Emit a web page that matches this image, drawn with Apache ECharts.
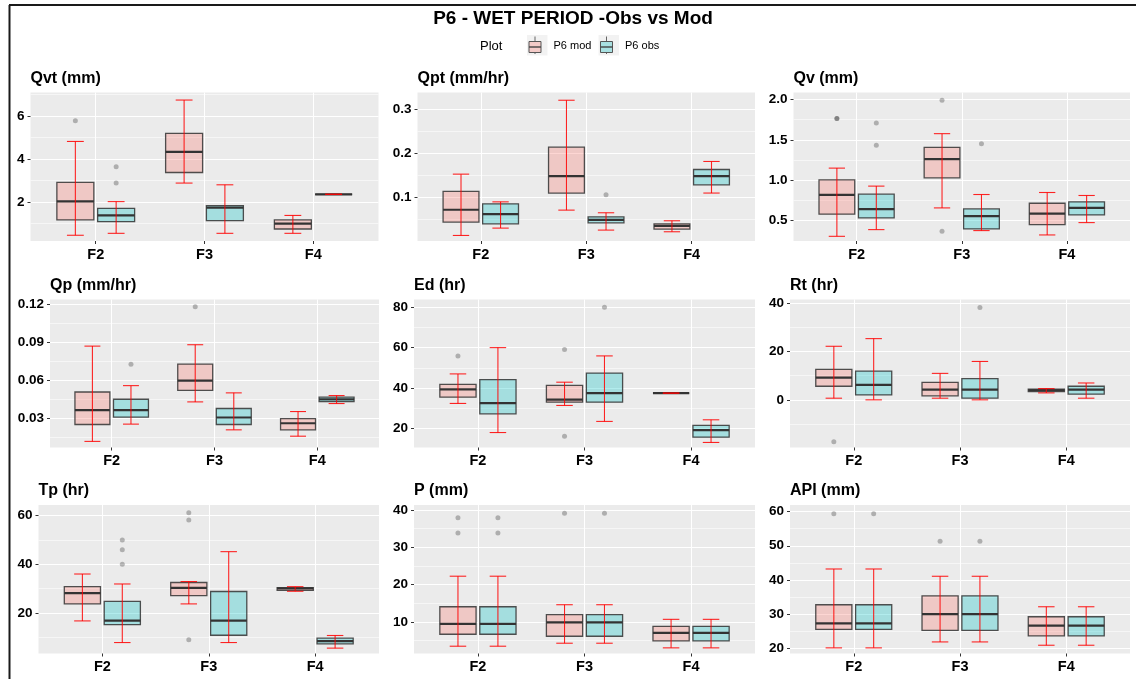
<!DOCTYPE html>
<html>
<head>
<meta charset="utf-8">
<title>P6 - WET PERIOD -Obs vs Mod</title>
<script src="https://cdn.jsdelivr.net/npm/echarts@6/dist/echarts.min.js"></script>
<style>
  html, body { margin: 0; padding: 0; background: #ffffff; }
  #chart { width: 1136px; height: 679px; }
</style>
</head>
<body>
<div id="chart"></div>
<script>
// ---- data -------------------------------------------------------------
const categories = ['F2', 'F3', 'F4'];
const seriesNames = ['P6 mod', 'P6 obs'];

// five-number summaries per site: [lower whisker, Q1, median, Q3, upper whisker]
// outliers: [site index (1 = F2, 2 = F3, 3 = F4), value]
const qvtMod = [[0.46, 1.17, 2.03, 2.91, 4.81], [2.88, 3.37, 4.33, 5.18, 6.73], [0.55, 0.75, 1.0, 1.17, 1.38]];
const qvtObs = [[0.55, 1.09, 1.38, 1.71, 2.02], [0.55, 1.14, 1.74, 1.83, 2.80], [2.36, 2.36, 2.36, 2.36, 2.36]];
const qvtModOut = [[1, 5.77]];
const qvtObsOut = [[1, 3.64], [1, 2.88]];

const qptMod = [[0.0136, 0.044, 0.072, 0.1136, 0.153], [0.0712, 0.110, 0.1485, 0.2144, 0.321], [0.022, 0.028, 0.0356, 0.040, 0.047]];
const qptObs = [[0.0303, 0.040, 0.062, 0.0856, 0.090], [0.0258, 0.0424, 0.0492, 0.056, 0.0652], [0.110, 0.1288, 0.1485, 0.1636, 0.1818]];
const qptModOut = [];
const qptObsOut = [[2, 0.106]];

const qvMod = [[0.305, 0.579, 0.819, 1.005, 1.150], [0.657, 1.030, 1.262, 1.407, 1.577], [0.322, 0.450, 0.587, 0.715, 0.848]];
const qvObs = [[0.388, 0.533, 0.641, 0.827, 0.927], [0.376, 0.396, 0.554, 0.645, 0.823], [0.475, 0.570, 0.657, 0.732, 0.811]];
const qvModOut = [[1, 1.764], [1, 1.764], [2, 1.99], [2, 0.367]];
const qvObsOut = [[1, 1.71], [1, 1.432], [2, 1.453]];

const qpMod = [[0.0120, 0.0253, 0.0366, 0.0509, 0.0870], [0.0431, 0.0522, 0.0598, 0.0729, 0.0881], [0.0161, 0.0211, 0.0263, 0.0300, 0.0355]];
const qpObs = [[0.0256, 0.0311, 0.0366, 0.0452, 0.0559], [0.0211, 0.0253, 0.0308, 0.0379, 0.0502], [0.0418, 0.0434, 0.0452, 0.0468, 0.0481]];
const qpModOut = [[2, 0.1179]];
const qpObsOut = [[1, 0.0727]];

const edMod = [[32.4, 35.5, 39.3, 41.8, 47.0], [31.4, 33.0, 34.3, 41.3, 42.9], [37.5, 37.5, 37.5, 37.5, 37.5]];
const edObs = [[18.0, 27.25, 32.5, 44.2, 60.0], [23.5, 33.0, 37.5, 47.4, 55.9], [13.1, 15.7, 19.2, 21.5, 24.3]];
const edModOut = [[1, 55.9], [2, 59.1], [2, 16.2]];
const edObsOut = [[2, 80.0]];

const rtMod = [[0.68, 5.60, 9.15, 12.56, 22.1], [0.68, 1.64, 4.23, 7.24, 10.92], [2.87, 3.41, 3.96, 4.37, 4.64]];
const rtObs = [[0, 2.05, 6.14, 11.88, 25.26], [0, 0.68, 4.23, 8.74, 15.84], [0.68, 2.32, 4.23, 5.6, 6.96]];
const rtModOut = [[1, -17.3]];
const rtObsOut = [[2, 38.1]];

const tpMod = [[16.7, 23.7, 28.1, 30.8, 36.0], [23.7, 27.1, 30.3, 32.5, 32.9], [28.9, 29.3, 30.1, 30.4, 30.8]];
const tpObs = [[7.8, 15.2, 16.85, 24.7, 31.9], [7.8, 10.8, 16.85, 28.8, 45.2], [5.5, 7.26, 8.35, 9.6, 10.7]];
const tpModOut = [[2, 61.2], [2, 58.2], [2, 8.9]];
const tpObsOut = [[1, 50.0], [1, 46.0], [1, 40.0]];

const pMod = [[3.52, 6.72, 9.47, 14.08, 22.25], [4.32, 6.18, 9.91, 11.95, 14.62], [3.08, 4.94, 7.07, 8.85, 10.71]];
const pObs = [[3.52, 6.72, 9.47, 14.08, 22.25], [4.32, 6.18, 9.91, 11.95, 14.62], [3.08, 4.94, 7.07, 8.85, 10.71]];
const pModOut = [[1, 37.87], [1, 33.79], [2, 39.1]];
const pObsOut = [[1, 37.87], [1, 33.79], [2, 39.1]];

const apiMod = [[20.1, 25.53, 27.28, 32.72, 43.2], [21.84, 25.24, 30.0, 35.34, 41.07], [20.87, 23.59, 26.6, 29.22, 32.14]];
const apiObs = [[20.1, 25.53, 27.28, 32.72, 43.2], [21.84, 25.24, 30.0, 35.34, 41.07], [20.87, 23.59, 26.6, 29.22, 32.14]];
const apiModOut = [[1, 59.4], [2, 51.36]];
const apiObsOut = [[1, 59.4], [2, 51.36]];

// y axis breaks: major (labelled) and minor (grid only)
const qvtTicks = [2, 4, 6];            const qvtMinor = [1, 3, 5, 7];
const qptTicks = [0.1, 0.2, 0.3];      const qptMinor = [0.05, 0.15, 0.25];
const qvTicks = [0.5, 1.0, 1.5, 2.0];  const qvMinor = [0.25, 0.75, 1.25, 1.75];
const qpTicks = [0.03, 0.06, 0.09, 0.12]; const qpMinor = [0.015, 0.045, 0.075, 0.105];
const edTicks = [20, 40, 60, 80];      const edMinor = [30, 50, 70];
const rtTicks = [0, 20, 40];           const rtMinor = [-10, 10, 30];
const tpTicks = [20, 40, 60];          const tpMinor = [10, 30, 50];
const pTicks = [10, 20, 30, 40];       const pMinor = [5, 15, 25, 35];
const apiTicks = [20, 30, 40, 50, 60]; const apiMinor = [25, 35, 45, 55];

// ---- panel setup ------------------------------------------------------
const panels = [
  { title: 'Qvt (mm)',    mod: qvtMod, obs: qvtObs, modOut: qvtModOut, obsOut: qvtObsOut, ticks: qvtTicks, minor: qvtMinor, yMin: 0.194,  yMax: 7.08,   digits: 0 },
  { title: 'Qpt (mm/hr)', mod: qptMod, obs: qptObs, modOut: qptModOut, obsOut: qptObsOut, ticks: qptTicks, minor: qptMinor, yMin: 0.001,  yMax: 0.3386, digits: 1 },
  { title: 'Qv (mm)',     mod: qvMod,  obs: qvObs,  modOut: qvModOut,  obsOut: qvObsOut,  ticks: qvTicks,  minor: qvMinor,  yMin: 0.247,  yMax: 2.087,  digits: 1 },
  { title: 'Qp (mm/hr)',  mod: qpMod,  obs: qpObs,  modOut: qpModOut,  obsOut: qpObsOut,  ticks: qpTicks,  minor: qpMinor,  yMin: 0.0072, yMax: 0.1237, digits: 2 },
  { title: 'Ed (hr)',     mod: edMod,  obs: edObs,  modOut: edModOut,  obsOut: edObsOut,  ticks: edTicks,  minor: edMinor,  yMin: 10.6,   yMax: 83.8,   digits: 0 },
  { title: 'Rt (hr)',     mod: rtMod,  obs: rtObs,  modOut: rtModOut,  obsOut: rtObsOut,  ticks: rtTicks,  minor: rtMinor,  yMin: -19.66, yMax: 41.4,   digits: 0 },
  { title: 'Tp (hr)',     mod: tpMod,  obs: tpObs,  modOut: tpModOut,  obsOut: tpObsOut,  ticks: tpTicks,  minor: tpMinor,  yMin: 3.29,   yMax: 64.4,   digits: 0 },
  { title: 'P (mm)',      mod: pMod,   obs: pObs,   modOut: pModOut,   obsOut: pObsOut,   ticks: pTicks,   minor: pMinor,   yMin: 1.57,   yMax: 41.3,   digits: 0 },
  { title: 'API (mm)',    mod: apiMod, obs: apiObs, modOut: apiModOut, obsOut: apiObsOut, ticks: apiTicks, minor: apiMinor, yMin: 18.45,  yMax: 61.94,  digits: 0 }
];

// panel rectangles: [left, right, top, bottom] in px
const panelBoxes = [
  [30.5, 378.5, 92.5, 241], [417.5, 755, 92.5, 241], [793.5, 1130, 92.5, 241],
  [50, 379, 299.5, 447.5],  [414, 755, 299.5, 447.5], [790, 1130, 299.5, 447.5],
  [38.5, 379, 505, 653.5],  [414, 755, 505, 653.5],  [790, 1130, 505, 653.5]
];

const FONT = '"Liberation Sans", Arial, Helvetica, sans-serif';
const DODGE = 0.1875;      // half the dodge width
const BOX_W = 0.34;        // box width, category units
const CAP_W = 0.155;       // whisker cap width
const WHISKER = 'rgba(255,0,0,0.85)';
const FILLS = ['rgba(248,118,109,0.3)', 'rgba(0,191,196,0.3)'];
const KEY_FILLS = ['#F3CBC8', '#A8E0E1'];

function boxRenderer(offset, fill) {
  return function (params, api) {
    const c = api.value(0) + offset;
    const lo = api.coord([c, api.value(1)]);
    const q1 = api.coord([c, api.value(2)]);
    const md = api.coord([c, api.value(3)]);
    const q3 = api.coord([c, api.value(4)]);
    const hi = api.coord([c, api.value(5)]);
    const half = api.size([BOX_W / 2, 0])[0];
    const cap = api.size([CAP_W / 2, 0])[0];
    const x = md[0];
    return {
      type: 'group',
      children: [
        { type: 'rect', shape: { x: x - half, y: q3[1], width: 2 * half, height: q1[1] - q3[1] },
          style: { fill: fill, stroke: 'rgba(51,51,51,0.85)', lineWidth: 1.3 } },
        { type: 'line', shape: { x1: x - half, y1: md[1], x2: x + half, y2: md[1] },
          style: { stroke: '#333333', lineWidth: 2.2 } },
        { type: 'line', shape: { x1: x, y1: hi[1], x2: x, y2: lo[1] },
          style: { stroke: WHISKER, lineWidth: 1.1 } },
        { type: 'line', shape: { x1: x - cap, y1: hi[1], x2: x + cap, y2: hi[1] },
          style: { stroke: WHISKER, lineWidth: 1.1 } },
        { type: 'line', shape: { x1: x - cap, y1: lo[1], x2: x + cap, y2: lo[1] },
          style: { stroke: WHISKER, lineWidth: 1.1 } }
      ]
    };
  };
}

const grids = [], xAxes = [], yAxes = [], series = [], graphics = [];

panels.forEach(function (p, i) {
  const [l, r, t, b] = panelBoxes[i];
  grids.push({ left: l, top: t, width: r - l, height: b - t, show: true,
               backgroundColor: '#EBEBEB', borderWidth: 0 });

  xAxes.push({
    gridIndex: i, type: 'value', min: 0.4, max: 3.6, position: 'bottom',
    axisLine: { show: false, onZero: false },
    axisTick: { show: true, customValues: [1, 2, 3], length: 3, lineStyle: { color: '#333333', width: 1 } },
    axisLabel: { customValues: [1, 2, 3], formatter: v => categories[Math.round(v) - 1],
                 margin: 6, fontSize: 14.5, fontWeight: 'bold', color: '#000', fontFamily: FONT },
    splitLine: { show: true, lineStyle: { color: '#FFFFFF', width: 1.1 } }
  });

  // labelled axis with major grid lines
  yAxes.push({
    gridIndex: i, type: 'value', min: p.yMin, max: p.yMax, position: 'left',
    axisLine: { show: false, onZero: false },
    axisTick: { show: true, customValues: p.ticks, length: 3, lineStyle: { color: '#333333', width: 1 } },
    axisLabel: { customValues: p.ticks, formatter: v => v.toFixed(p.digits),
                 margin: 6, fontSize: 13.5, fontWeight: 'bold', color: '#000', fontFamily: FONT },
    splitLine: { show: true, lineStyle: { color: '#FFFFFF', width: 1.1 } }
  });
  // companion axis carrying only the minor grid lines
  yAxes.push({
    gridIndex: i, type: 'value', min: p.yMin, max: p.yMax, position: 'right',
    axisLine: { show: false, onZero: false },
    axisTick: { show: false, customValues: p.minor },
    axisLabel: { show: false, customValues: p.minor },
    splitLine: { show: true, lineStyle: { color: '#FFFFFF', width: 0.55 } }
  });

  [p.mod, p.obs].forEach(function (stats, s) {
    const offset = s === 0 ? -DODGE : DODGE;
    series.push({
      type: 'custom', name: seriesNames[s], xAxisIndex: i, yAxisIndex: 2 * i,
      renderItem: boxRenderer(offset, FILLS[s]),
      encode: { x: 0, y: [1, 2, 3, 4, 5] },
      data: stats.map((v, k) => [k + 1].concat(v)),
      z: 2, silent: true, clip: false
    });
  });
  [p.modOut, p.obsOut].forEach(function (pts, s) {
    const offset = s === 0 ? -DODGE : DODGE;
    series.push({
      type: 'scatter', name: seriesNames[s] + ' outliers', xAxisIndex: i, yAxisIndex: 2 * i,
      data: pts.map(d => [d[0] + offset, d[1]]),
      symbol: 'circle', symbolSize: 5,
      itemStyle: { color: 'rgba(0,0,0,0.32)' },
      z: 3, silent: true
    });
  });

  graphics.push({
    type: 'text', x: l, y: t - 14,
    style: { text: p.title, font: 'bold 16px ' + FONT, fill: '#000',
             textAlign: 'left', textVerticalAlign: 'middle' }
  });
});

// outer frame
graphics.push({ type: 'line', shape: { x1: 9, y1: 5, x2: 1136, y2: 5 }, style: { stroke: '#1a1a1a', lineWidth: 2 } });
graphics.push({ type: 'line', shape: { x1: 9.5, y1: 5, x2: 9.5, y2: 679 }, style: { stroke: '#1a1a1a', lineWidth: 2 } });

// main title
graphics.push({
  type: 'text', x: 573, y: 18.5,
  style: { text: 'P6 - WET PERIOD -Obs vs Mod', font: 'bold 19px ' + FONT, fill: '#000',
           textAlign: 'center', textVerticalAlign: 'middle' }
});

// legend
graphics.push({ type: 'text', x: 480, y: 46,
  style: { text: 'Plot', font: '13px ' + FONT, fill: '#000', textAlign: 'left', textVerticalAlign: 'middle' } });
[527, 598.5].forEach(function (kx, s) {
  graphics.push({ type: 'rect', shape: { x: kx, y: 35, width: 20.5, height: 20.5 }, style: { fill: '#F2F2F2' } });
  graphics.push({ type: 'line', shape: { x1: kx + 8, y1: 36.5, x2: kx + 8, y2: 54 }, style: { stroke: '#666', lineWidth: 1 } });
  graphics.push({ type: 'rect', shape: { x: kx + 2, y: 41.5, width: 12, height: 11 },
                  style: { fill: KEY_FILLS[s], stroke: '#555', lineWidth: 1 } });
  graphics.push({ type: 'line', shape: { x1: kx + 2, y1: 47, x2: kx + 14, y2: 47 }, style: { stroke: '#444', lineWidth: 1.4 } });
  graphics.push({ type: 'text', x: kx + 26.5, y: 46,
    style: { text: seriesNames[s], font: '11px ' + FONT, fill: '#000', textAlign: 'left', textVerticalAlign: 'middle' } });
});

const chart = echarts.init(document.getElementById('chart'), null, { renderer: 'canvas' });
chart.setOption({
  backgroundColor: '#FFFFFF',
  animation: false,
  grid: grids,
  xAxis: xAxes,
  yAxis: yAxes,
  series: series,
  graphic: graphics
});
</script>
</body>
</html>
